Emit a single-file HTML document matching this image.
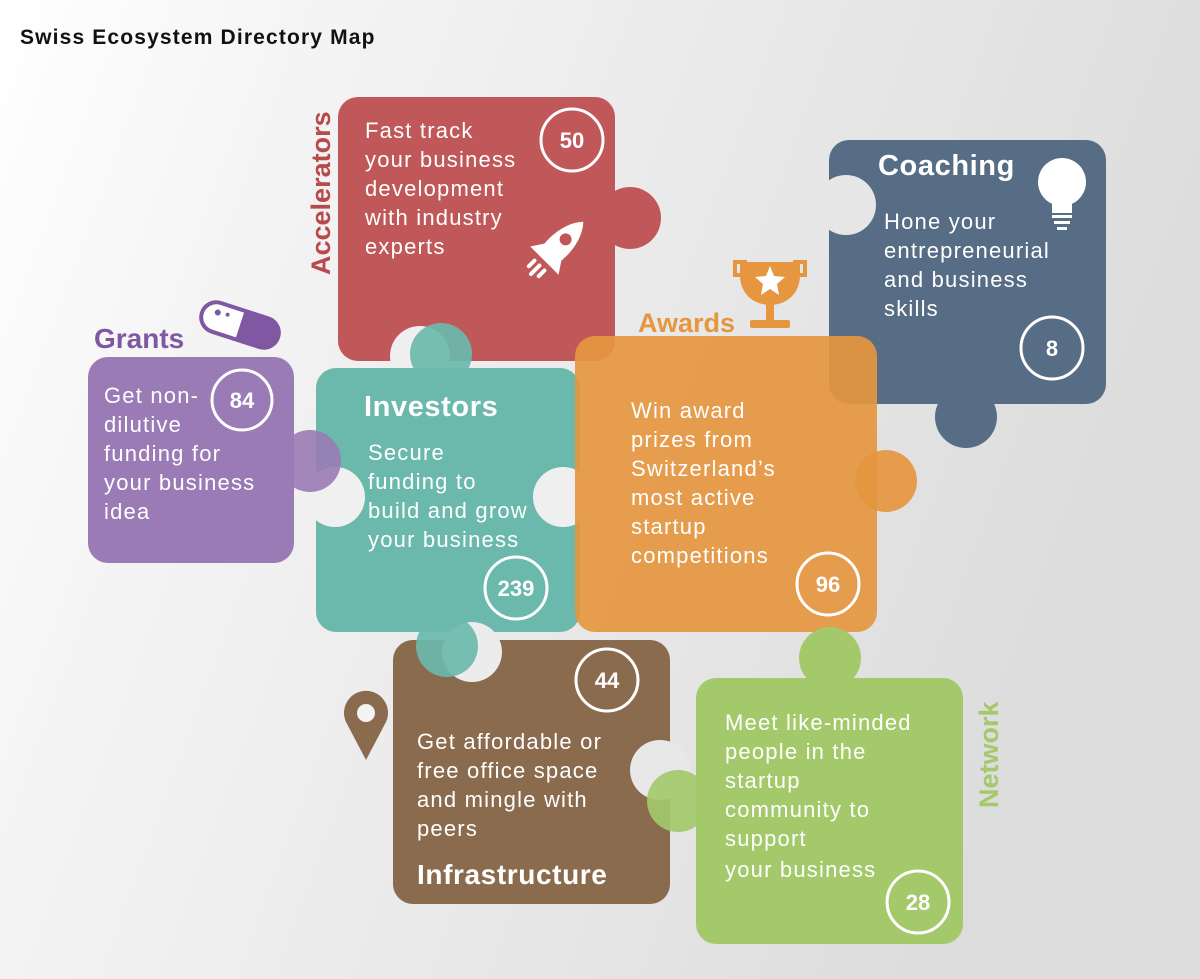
<!DOCTYPE html>
<html><head><meta charset="utf-8"><style>
body{margin:0;width:1200px;height:979px;overflow:hidden;font-family:"Liberation Sans",sans-serif}
svg{display:block}
</style></head><body>
<svg width="1200" height="979" viewBox="0 0 1200 979">
<defs>
<linearGradient id="bg" x1="0" y1="0" x2="1" y2="0.3">
<stop offset="0" stop-color="#ffffff"/><stop offset="0.25" stop-color="#f4f4f4"/><stop offset="1" stop-color="#dcdcdc"/>
</linearGradient>
</defs>
<rect width="1200" height="979" fill="url(#bg)"/>
<text x="20" y="44" font-size="21" font-weight="bold" fill="#111" letter-spacing="0.6" textLength="355">Swiss Ecosystem Directory Map</text>
<g font-family="Liberation Sans,sans-serif" fill="#fff">
<!-- Red -->
<rect x="338" y="97" width="277" height="264" rx="20" fill="#c0585a"/>
<circle cx="630" cy="218" r="31" fill="#c0585a"/>
<circle cx="420" cy="356" r="30" fill="#efefef"/>
<!-- Coaching -->
<rect x="829" y="140" width="277" height="264" rx="20" fill="#566d85"/>
<circle cx="846" cy="205" r="30" fill="#e6e6e6"/>
<circle cx="966" cy="417" r="31" fill="#566d85"/>
<!-- Grants -->
<rect x="88" y="357" width="206" height="206" rx="20" fill="#9a7bb5"/>
<!-- Investors -->
<rect x="316" y="368" width="264" height="264" rx="20" fill="#6bb8ac"/>
<circle cx="441" cy="354" r="31" fill="#6bb8ac" opacity="0.92"/>
<circle cx="335" cy="497" r="30" fill="#f0f0f0"/>
<circle cx="310" cy="461" r="31" fill="#9a7bb5" opacity="0.9"/>
<circle cx="563" cy="497" r="30" fill="#efefef"/>
<!-- Awards -->
<rect x="575" y="336" width="302" height="296" rx="20" fill="#e5963f" opacity="0.92"/>
<circle cx="886" cy="481" r="31" fill="#e5963f" opacity="0.92"/>
<!-- Infrastructure -->
<rect x="393" y="640" width="277" height="264" rx="20" fill="#8a6b4e"/>
<circle cx="472" cy="652" r="30" fill="#ececec"/>
<circle cx="447" cy="646" r="31" fill="#6bb8ac" opacity="0.92"/>
<circle cx="660" cy="770" r="30" fill="#e8e8e8"/>
<!-- Network -->
<rect x="696" y="678" width="267" height="266" rx="20" fill="#a3c96b"/>
<circle cx="830" cy="658" r="31" fill="#a3c96b"/>
<circle cx="678" cy="801" r="31" fill="#a3c96b" opacity="0.92"/>

<!-- labels outside -->
<text transform="translate(330,275) rotate(-90)" font-size="27" font-weight="bold" fill="#b84a4c">Accelerators</text>
<text x="94" y="348" font-size="28" font-weight="bold" fill="#7f57a3">Grants</text>
<text x="638" y="332" font-size="27" font-weight="bold" fill="#e5963f">Awards</text>
<text transform="translate(998,808) rotate(-90)" font-size="27" font-weight="bold" fill="#a3c96b">Network</text>

<g font-size="22" letter-spacing="1.2">
<text x="365" y="138">Fast track</text><text x="365" y="167">your business</text><text x="365" y="196">development</text><text x="365" y="225">with industry</text><text x="365" y="254">experts</text>
<text x="884" y="229">Hone your</text><text x="884" y="258">entrepreneurial</text><text x="884" y="287">and business</text><text x="884" y="316">skills</text>
<text x="104" y="403">Get non-</text><text x="104" y="432">dilutive</text><text x="104" y="461">funding for</text><text x="104" y="490">your business</text><text x="104" y="519">idea</text>
<text x="368" y="460">Secure</text><text x="368" y="489">funding to</text><text x="368" y="518">build and grow</text><text x="368" y="547">your business</text>
<text x="631" y="418">Win award</text><text x="631" y="447">prizes from</text><text x="631" y="476">Switzerland’s</text><text x="631" y="505">most active</text><text x="631" y="534">startup</text><text x="631" y="563">competitions</text>
<text x="417" y="749">Get affordable or</text><text x="417" y="778">free office space</text><text x="417" y="807">and mingle with</text><text x="417" y="836">peers</text>
<text x="725" y="730">Meet like-minded</text><text x="725" y="759">people in the</text><text x="725" y="788">startup</text><text x="725" y="817">community to</text><text x="725" y="846">support</text><text x="725" y="877">your business</text>
</g>
<g font-weight="bold" letter-spacing="0.6">
<text x="878" y="175" font-size="29">Coaching</text>
<text x="364" y="416" font-size="29">Investors</text>
<text x="417" y="884" font-size="28">Infrastructure</text>
</g>
<g fill="none" stroke="#fff" stroke-width="3">
<circle cx="572" cy="140" r="31"/><circle cx="1052" cy="348" r="31"/><circle cx="242" cy="400" r="30"/>
<circle cx="516" cy="588" r="31"/><circle cx="828" cy="584" r="31"/><circle cx="607" cy="680" r="31"/><circle cx="918" cy="902" r="31"/>
</g>
<g font-size="22" font-weight="bold" text-anchor="middle">
<text x="572" y="148">50</text><text x="1052" y="356">8</text><text x="242" y="408">84</text>
<text x="516" y="596">239</text><text x="828" y="592">96</text><text x="607" y="688">44</text><text x="918" y="910">28</text>
</g>
<!-- rocket -->
<g transform="translate(555,250) rotate(45)">
<path d="M0,-40 C14,-25 14,0 10,15 L-10,15 C-14,0 -14,-25 0,-40Z" fill="#fff"/>
<path d="M-10,0 L-20,15 L-10,15Z M10,0 L20,15 L10,15Z" fill="#fff"/>
<circle cx="0" cy="-15" r="6" fill="#c0585a"/>
<rect x="-9" y="20" width="4" height="12" rx="2"/><rect x="-2" y="20" width="4" height="16" rx="2"/><rect x="5" y="20" width="4" height="12" rx="2"/>
</g>
<circle cx="1062" cy="182" r="24"/><rect x="1052" y="203" width="20" height="10"/>
<rect x="1052" y="215" width="20" height="3"/><rect x="1054" y="221" width="16" height="3"/><rect x="1057" y="227" width="10" height="3"/>
<g transform="translate(240,325) rotate(18)">
<rect x="-40" y="-15" width="80" height="30" rx="15" fill="#fff" stroke="#7f57a3" stroke-width="4"/>
<path d="M0,-15 H25 A15,15 0 0 1 25,15 H0Z" fill="#7f57a3"/>
<circle cx="-25" cy="-5" r="3" fill="#7f57a3"/><circle cx="-15" cy="-6" r="2" fill="#7f57a3"/>
</g>
<g fill="#e5963f">
<path d="M740,262 H800 V275 C800,295 785,305 770,305 C755,305 740,295 740,275Z"/>
<path d="M735,262 H745 V275 H735Z M795,262 H805 V275 H795Z" fill="none" stroke="#e5963f" stroke-width="4"/>
<rect x="766" y="303" width="8" height="18"/><rect x="750" y="320" width="40" height="8" rx="2"/>
<polygon points="770,266 774,276 785,277 777,284 779,295 770,289 761,295 763,284 755,277 766,276" fill="#fff"/>
</g>
<path d="M366,760 L346,722 A22,22 0 1 1 386,722 Z" fill="#8a6b4e"/>
<circle cx="366" cy="713" r="9" fill="#f3f3f3"/>
</g>
</svg>
</body></html>
